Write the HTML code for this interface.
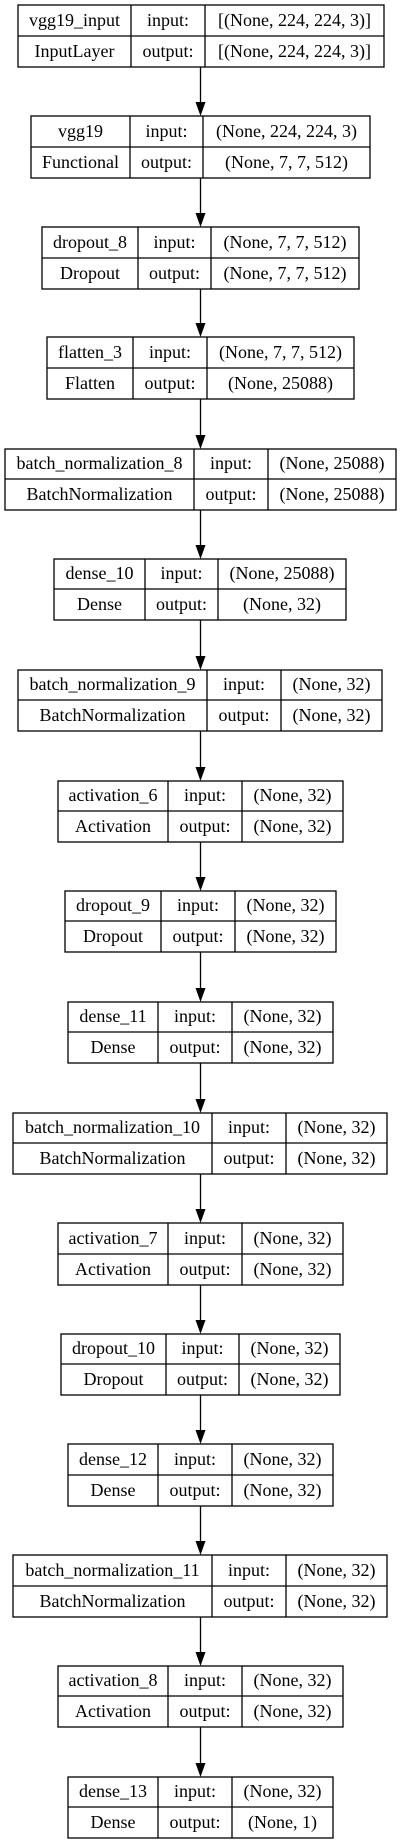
<!DOCTYPE html>
<html><head><meta charset="utf-8"><style>
html,body{margin:0;padding:0;background:#fff;}
svg{display:block;}
text{font-family:"Liberation Serif",serif;font-size:18px;fill:#000;text-anchor:middle;}
</style></head><body>
<svg width="401" height="1844" viewBox="0 0 401 1844" xmlns="http://www.w3.org/2000/svg">
<g fill="none" stroke="#000" stroke-width="1.3">
<!-- boxes: top, x0, x1, x2, x3 -->
<rect x="18" y="5" width="366" height="62"/><line x1="18" y1="36" x2="384" y2="36"/><line x1="131" y1="5" x2="131" y2="67"/><line x1="205" y1="5" x2="205" y2="67"/>
<rect x="31" y="116" width="339" height="62"/><line x1="31" y1="147" x2="370" y2="147"/><line x1="130" y1="116" x2="130" y2="178"/><line x1="203" y1="116" x2="203" y2="178"/>
<rect x="42" y="227" width="317" height="62"/><line x1="42" y1="258" x2="359" y2="258"/><line x1="138" y1="227" x2="138" y2="289"/><line x1="211" y1="227" x2="211" y2="289"/>
<rect x="47" y="337" width="307" height="62"/><line x1="47" y1="368" x2="354" y2="368"/><line x1="133" y1="337" x2="133" y2="399"/><line x1="207" y1="337" x2="207" y2="399"/>
<rect x="5" y="449" width="391" height="61"/><line x1="5" y1="479" x2="396" y2="479"/><line x1="194" y1="449" x2="194" y2="510"/><line x1="268" y1="449" x2="268" y2="510"/>
<rect x="54" y="559" width="292" height="61"/><line x1="54" y1="589" x2="346" y2="589"/><line x1="145" y1="559" x2="145" y2="620"/><line x1="218" y1="559" x2="218" y2="620"/>
<rect x="18" y="670" width="364" height="61"/><line x1="18" y1="700" x2="382" y2="700"/><line x1="207" y1="670" x2="207" y2="731"/><line x1="281" y1="670" x2="281" y2="731"/>
<rect x="58" y="781" width="285" height="61"/><line x1="58" y1="811" x2="343" y2="811"/><line x1="168" y1="781" x2="168" y2="842"/><line x1="242" y1="781" x2="242" y2="842"/>
<rect x="65" y="891" width="271" height="61"/><line x1="65" y1="921" x2="336" y2="921"/><line x1="161" y1="891" x2="161" y2="952"/><line x1="235" y1="891" x2="235" y2="952"/>
<rect x="68" y="1002" width="265" height="61"/><line x1="68" y1="1032" x2="333" y2="1032"/><line x1="158" y1="1002" x2="158" y2="1063"/><line x1="232" y1="1002" x2="232" y2="1063"/>
<rect x="13" y="1113" width="374" height="61"/><line x1="13" y1="1143" x2="387" y2="1143"/><line x1="212" y1="1113" x2="212" y2="1174"/><line x1="286" y1="1113" x2="286" y2="1174"/>
<rect x="58" y="1223" width="285" height="62"/><line x1="58" y1="1254" x2="343" y2="1254"/><line x1="168" y1="1223" x2="168" y2="1285"/><line x1="242" y1="1223" x2="242" y2="1285"/>
<rect x="61" y="1334" width="279" height="61"/><line x1="61" y1="1364" x2="340" y2="1364"/><line x1="166" y1="1334" x2="166" y2="1395"/><line x1="239" y1="1334" x2="239" y2="1395"/>
<rect x="68" y="1444" width="265" height="62"/><line x1="68" y1="1475" x2="333" y2="1475"/><line x1="158" y1="1444" x2="158" y2="1506"/><line x1="232" y1="1444" x2="232" y2="1506"/>
<rect x="13" y="1555" width="374" height="62"/><line x1="13" y1="1586" x2="387" y2="1586"/><line x1="212" y1="1555" x2="212" y2="1617"/><line x1="286" y1="1555" x2="286" y2="1617"/>
<rect x="58" y="1666" width="285" height="61"/><line x1="58" y1="1696" x2="343" y2="1696"/><line x1="168" y1="1666" x2="168" y2="1727"/><line x1="242" y1="1666" x2="242" y2="1727"/>
<rect x="68" y="1777" width="265" height="61"/><line x1="68" y1="1807" x2="333" y2="1807"/><line x1="158" y1="1777" x2="158" y2="1838"/><line x1="232" y1="1777" x2="232" y2="1838"/>
<!-- connectors -->
<line x1="200.5" y1="67" x2="200.5" y2="103"/><line x1="200.5" y1="178" x2="200.5" y2="214"/><line x1="200.5" y1="289" x2="200.5" y2="324"/><line x1="200.5" y1="399" x2="200.5" y2="436"/><line x1="200.5" y1="510" x2="200.5" y2="546"/><line x1="200.5" y1="620" x2="200.5" y2="657"/><line x1="200.5" y1="731" x2="200.5" y2="768"/><line x1="200.5" y1="842" x2="200.5" y2="878"/><line x1="200.5" y1="952" x2="200.5" y2="989"/><line x1="200.5" y1="1063" x2="200.5" y2="1100"/><line x1="200.5" y1="1174" x2="200.5" y2="1210"/><line x1="200.5" y1="1285" x2="200.5" y2="1321"/><line x1="200.5" y1="1395" x2="200.5" y2="1431"/><line x1="200.5" y1="1506" x2="200.5" y2="1542"/><line x1="200.5" y1="1617" x2="200.5" y2="1653"/><line x1="200.5" y1="1727" x2="200.5" y2="1764"/>
</g>
<g fill="#000">
<polygon points="195.5,102 205.5,102 200.5,116"/><polygon points="195.5,213 205.5,213 200.5,227"/><polygon points="195.5,323 205.5,323 200.5,337"/><polygon points="195.5,435 205.5,435 200.5,449"/><polygon points="195.5,545 205.5,545 200.5,559"/><polygon points="195.5,656 205.5,656 200.5,670"/><polygon points="195.5,767 205.5,767 200.5,781"/><polygon points="195.5,877 205.5,877 200.5,891"/><polygon points="195.5,988 205.5,988 200.5,1002"/><polygon points="195.5,1099 205.5,1099 200.5,1113"/><polygon points="195.5,1209 205.5,1209 200.5,1223"/><polygon points="195.5,1320 205.5,1320 200.5,1334"/><polygon points="195.5,1430 205.5,1430 200.5,1444"/><polygon points="195.5,1541 205.5,1541 200.5,1555"/><polygon points="195.5,1652 205.5,1652 200.5,1666"/><polygon points="195.5,1763 205.5,1763 200.5,1777"/>
</g>
<text x="74.5" y="26">vgg19_input</text><text x="168" y="26">input:</text><text x="294.5" y="26">[(None, 224, 224, 3)]</text>
<text x="74.5" y="57">InputLayer</text><text x="168" y="57">output:</text><text x="294.5" y="57">[(None, 224, 224, 3)]</text>
<text x="80.5" y="137">vgg19</text><text x="166.5" y="137">input:</text><text x="286.5" y="137">(None, 224, 224, 3)</text>
<text x="80.5" y="168">Functional</text><text x="166.5" y="168">output:</text><text x="286.5" y="168">(None, 7, 7, 512)</text>
<text x="90" y="248">dropout_8</text><text x="174.5" y="248">input:</text><text x="285" y="248">(None, 7, 7, 512)</text>
<text x="90" y="279">Dropout</text><text x="174.5" y="279">output:</text><text x="285" y="279">(None, 7, 7, 512)</text>
<text x="90" y="358">flatten_3</text><text x="170" y="358">input:</text><text x="280.5" y="358">(None, 7, 7, 512)</text>
<text x="90" y="389">Flatten</text><text x="170" y="389">output:</text><text x="280.5" y="389">(None, 25088)</text>
<text x="99.5" y="469">batch_normalization_8</text><text x="231" y="469">input:</text><text x="332" y="469">(None, 25088)</text>
<text x="99.5" y="500">BatchNormalization</text><text x="231" y="500">output:</text><text x="332" y="500">(None, 25088)</text>
<text x="99.5" y="579">dense_10</text><text x="181.5" y="579">input:</text><text x="282" y="579">(None, 25088)</text>
<text x="99.5" y="610">Dense</text><text x="181.5" y="610">output:</text><text x="282" y="610">(None, 32)</text>
<text x="112.5" y="690">batch_normalization_9</text><text x="244" y="690">input:</text><text x="331.5" y="690">(None, 32)</text>
<text x="112.5" y="721">BatchNormalization</text><text x="244" y="721">output:</text><text x="331.5" y="721">(None, 32)</text>
<text x="113" y="801">activation_6</text><text x="205" y="801">input:</text><text x="292.5" y="801">(None, 32)</text>
<text x="113" y="832">Activation</text><text x="205" y="832">output:</text><text x="292.5" y="832">(None, 32)</text>
<text x="113" y="911">dropout_9</text><text x="198" y="911">input:</text><text x="285.5" y="911">(None, 32)</text>
<text x="113" y="942">Dropout</text><text x="198" y="942">output:</text><text x="285.5" y="942">(None, 32)</text>
<text x="113" y="1022">dense_11</text><text x="195" y="1022">input:</text><text x="282.5" y="1022">(None, 32)</text>
<text x="113" y="1053">Dense</text><text x="195" y="1053">output:</text><text x="282.5" y="1053">(None, 32)</text>
<text x="112.5" y="1133">batch_normalization_10</text><text x="249" y="1133">input:</text><text x="336.5" y="1133">(None, 32)</text>
<text x="112.5" y="1164">BatchNormalization</text><text x="249" y="1164">output:</text><text x="336.5" y="1164">(None, 32)</text>
<text x="113" y="1244">activation_7</text><text x="205" y="1244">input:</text><text x="292.5" y="1244">(None, 32)</text>
<text x="113" y="1275">Activation</text><text x="205" y="1275">output:</text><text x="292.5" y="1275">(None, 32)</text>
<text x="113.5" y="1354">dropout_10</text><text x="202.5" y="1354">input:</text><text x="289.5" y="1354">(None, 32)</text>
<text x="113.5" y="1385">Dropout</text><text x="202.5" y="1385">output:</text><text x="289.5" y="1385">(None, 32)</text>
<text x="113" y="1465">dense_12</text><text x="195" y="1465">input:</text><text x="282.5" y="1465">(None, 32)</text>
<text x="113" y="1496">Dense</text><text x="195" y="1496">output:</text><text x="282.5" y="1496">(None, 32)</text>
<text x="112.5" y="1576">batch_normalization_11</text><text x="249" y="1576">input:</text><text x="336.5" y="1576">(None, 32)</text>
<text x="112.5" y="1607">BatchNormalization</text><text x="249" y="1607">output:</text><text x="336.5" y="1607">(None, 32)</text>
<text x="113" y="1686">activation_8</text><text x="205" y="1686">input:</text><text x="292.5" y="1686">(None, 32)</text>
<text x="113" y="1717">Activation</text><text x="205" y="1717">output:</text><text x="292.5" y="1717">(None, 32)</text>
<text x="113" y="1797">dense_13</text><text x="195" y="1797">input:</text><text x="282.5" y="1797">(None, 32)</text>
<text x="113" y="1828">Dense</text><text x="195" y="1828">output:</text><text x="282.5" y="1828">(None, 1)</text>
</svg>
</body></html>
